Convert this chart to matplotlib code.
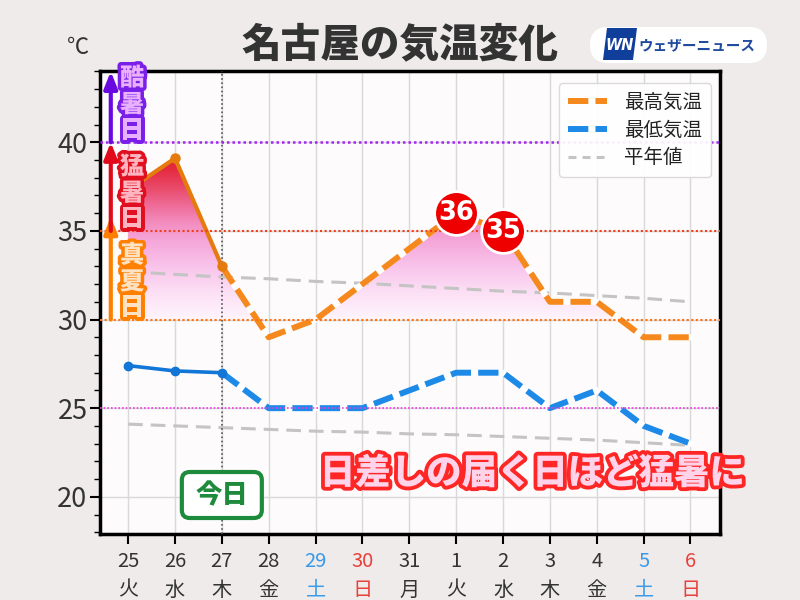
import matplotlib
matplotlib.use('Agg')
import matplotlib.pyplot as plt
import numpy as np
from matplotlib.colors import LinearSegmentedColormap
from matplotlib.path import Path
from matplotlib.patches import FancyBboxPatch, Polygon
from matplotlib.transforms import IdentityTransform
import matplotlib.patheffects as pe
from matplotlib.lines import Line2D

plt.rcParams['font.family'] = ['Noto Sans CJK JP', 'DejaVu Sans']

# ---------------- data ----------------
days = ['25', '26', '27', '28', '29', '30', '31', '1', '2', '3', '4', '5', '6']
weekdays = ['火', '水', '木', '金', '土', '日', '月', '火', '水', '木', '金', '土', '日']
max_temp = [37.3, 39.1, 33.0, 29, 30, 32, 34, 36, 35, 31, 31, 29, 29]
min_temp = [27.4, 27.1, 27.0, 25, 25, 25, 26, 27, 27, 25, 26, 24, 23]
normal_max = [32.7, 32.55, 32.4, 32.3, 32.15, 32.05, 31.9, 31.75, 31.6, 31.5, 31.35, 31.2, 31.0]
normal_min = [24.1, 24.0, 23.9, 23.8, 23.7, 23.65, 23.55, 23.5, 23.4, 23.3, 23.2, 23.05, 22.9]
today_index = 2
highlight_idx = [7, 8]
series_labels = ['最高気温', '最低気温', '平年値']
title = '名古屋の気温変化'
band_labels = ['真夏日', '猛暑日', '酷暑日']
band_bottoms = [30, 35, 40]
band_tops = [35.8, 40, 44.0]
banner = '日差しの届く日ほど猛暑に'

# ---------------- figure ----------------
fig = plt.figure(figsize=(8, 6), dpi=100)
fig.patch.set_facecolor('#EEEBEA')
ax = fig.add_axes([0.125, 0.11, 0.775, 0.771])
ax.set_facecolor('#FDFBFC')
x = np.arange(len(days))
ax.set_xlim(-0.6, 12.63)
ax.set_ylim(17.9, 44.0)

# grid
ax.set_axisbelow(True)
ax.set_xticks(x)
ax.set_yticks([20, 25, 30, 35, 40])
ax.set_yticks(np.arange(18, 45, 1), minor=True)
ax.grid(True, which='major', color='#D9D9D9', lw=1.0, zorder=0)

# gradient fill between max temp and 30
mx = np.array(max_temp, dtype=float)
fb = ax.fill_between(x, mx, 30, where=mx >= 30, interpolate=True,
                     facecolor='none', edgecolor='none')
paths = fb.get_paths()
clip = Path.make_compound_path(*paths)
stops = [(30, '#FFF5FC'), (31.5, '#FCE0F5'), (33, '#F9C4EB'), (34.5, '#F5A5D9'),
         (35.5, '#F38CBE'), (36.5, '#EE6A95'), (37.5, '#E94867'), (38.5, '#E42B40'),
         (40, '#E01A2A')]
cmap = LinearSegmentedColormap.from_list('heat', [((s - 30) / 10, c) for s, c in stops])
grad = np.linspace(30, 40, 256).reshape(-1, 1)
im = ax.imshow(grad, extent=[-0.6, 12.63, 30, 40], origin='lower', aspect='auto',
               cmap=cmap, vmin=30, vmax=40, zorder=1.5, interpolation='bilinear')
im.set_clip_path(clip, transform=ax.transData)
ax.set_xlim(-0.6, 12.63)
ax.set_ylim(17.9, 44.0)

# normal lines
ax.plot(x, normal_max, color='#C4C4C4', lw=2.2, dashes=(4.8, 2.6), zorder=3)
ax.plot(x, normal_min, color='#C4C4C4', lw=2.2, dashes=(4.8, 2.6), zorder=3)

# today vertical line
ax.axvline(today_index, color='#555555', lw=1.2, ls=(0, (1, 1.5)), zorder=3)

# forecast dashed lines
fx = x[today_index:]
for vals, col in [(max_temp, '#F5891E'), (min_temp, '#1E8AE8')]:
    fv = np.array(vals)[today_index:]
    ax.plot(fx, fv, color='white', lw=4.3, solid_joinstyle='miter', zorder=4)
    ax.plot(fx, fv, color=col, lw=4.3, dashes=(3.4, 1.2), zorder=4.5)

# past solid lines
px = x[:today_index + 1]
ax.plot(px, max_temp[:today_index + 1], color='#E57A0E', lw=3.0, marker='o', ms=6.5,
        zorder=5)
ax.plot(px, min_temp[:today_index + 1], color='#1276D6', lw=2.6, marker='o', ms=6,
        zorder=5)

# reference lines
ax.axhline(40, color='#A424F0', lw=1.8, ls=(0, (1, 1.2)), zorder=6)
ax.axhline(35, color='#F0401A', lw=1.5, ls=(0, (1, 1.2)), zorder=6)
ax.axhline(30, color='#FF7010', lw=1.5, ls=(0, (1, 1.2)), zorder=6)
ax.axhline(25, color='#E83CE0', lw=1.2, ls=(0, (1, 1.2)), zorder=6)

# highlighted values
for i in highlight_idx:
    ax.plot(x[i], max_temp[i], 'o', ms=31.5, mfc='#EE0000', mec='white', mew=2, zorder=8)
    ax.text(x[i], max_temp[i], f'{max_temp[i]:.0f}', color='white', fontsize=18.5,
            fontweight='heavy', ha='center', va='center', zorder=9,
            family=['DejaVu Sans'])

# band arrows and labels
band_cols = [('#FF8000', '#FFE2C4', '#FF8000'),
             ('#E00A1A', '#FFB5C0', '#E01020'),
             ('#6A08E0', '#E8B0FF', '#7A1FE8')]
arrow_x = -0.37
text_x = 0.085
for lab, b0, b1, (acol, fcol, ocol) in zip(band_labels, band_bottoms, band_tops, band_cols):
    ax.annotate('', xy=(arrow_x, b1), xytext=(arrow_x, b0),
                arrowprops=dict(arrowstyle='-|>,head_length=0.5,head_width=0.2',
                                lw=3.0, color=acol, shrinkA=0, shrinkB=0,
                                mutation_scale=20),
                zorder=7, annotation_clip=False)
    offs = [3.62, 2.12, 0.68]
    for ch, o in zip(lab, offs):
        ax.text(text_x, b0 + o, ch, fontsize=17.5, fontweight='heavy', color=fcol,
                ha='center', va='center', zorder=7.5,
                path_effects=[pe.withStroke(linewidth=5, foreground=ocol)])

# banner text
ax.text(0.697, 0.132, banner, transform=ax.transAxes, fontsize=25.5, fontweight='heavy',
        color='#FFD4EA', ha='center', va='center', zorder=9,
        path_effects=[pe.withStroke(linewidth=5.5, foreground='#FF2626')])

# today box
cx, cy = ax.transData.transform((today_index, 20.1))
box = FancyBboxPatch((cx - 40, cy - 23), 80, 46,
                     boxstyle='round,pad=0,rounding_size=8',
                     fc='white', ec='#1E8A3C', lw=3.0, transform=IdentityTransform(),
                     zorder=9)
ax.add_patch(box)
ax.text(today_index, 20.1, '今日', fontsize=19, fontweight='heavy', color='#1E8A3C',
        ha='center', va='center', zorder=10)

# ticks
ax.set_xticklabels([f'{d}\n{w}' for d, w in zip(days, weekdays)], fontsize=14.5,
                   linespacing=1.5)
for lbl, w in zip(ax.get_xticklabels(), weekdays):
    if w == '土':
        lbl.set_color('#3A9AE8')
    elif w == '日':
        lbl.set_color('#E8403A')
    else:
        lbl.set_color('#333333')
ax.set_yticklabels(['20', '25', '30', '35', '40'], fontsize=19.5, color='#333333')
ax.tick_params(axis='x', length=7, width=1.5, pad=5, direction='out')
ax.tick_params(axis='y', which='major', length=7, width=1.5, pad=2, direction='out')
ax.tick_params(axis='y', which='minor', length=4, width=1.0, direction='out')
for s in ax.spines.values():
    s.set_linewidth(2.5)
    s.set_color('black')

# legend
handles = [Line2D([], [], color='#F5891E', lw=4.3, dashes=(3.4, 1.2)),
           Line2D([], [], color='#1E8AE8', lw=4.3, dashes=(3.4, 1.2)),
           Line2D([], [], color='#C4C4C4', lw=2.2, dashes=(2.6, 2.0))]
leg = ax.legend(handles, series_labels, fontsize=14, loc='upper right',
                bbox_to_anchor=(0.985, 0.975), borderaxespad=0, frameon=True,
                fancybox=True, framealpha=0.92, edgecolor='#D8D8D8', facecolor='white',
                handlelength=2.05, labelspacing=0.35, borderpad=0.45,
                handletextpad=0.85)
leg.set_zorder(11)
for t in leg.get_texts():
    t.set_color('#222222')

# title and unit
fig.text(0.5, 1 - 45 / 600, title, fontsize=28.5, fontweight='heavy', color='#333333',
         ha='center', va='center')
fig.text(78 / 800, 1 - 47 / 600, '℃', fontsize=16, color='#333333',
         ha='center', va='center')

# logo
pill = FancyBboxPatch((590, 600 - 63), 177, 36, boxstyle='round,pad=0,rounding_size=18',
                      fc='white', ec='none', transform=IdentityTransform())
fig.add_artist(pill)
wn = Polygon([(607, 600 - 28), (637, 600 - 28), (633, 600 - 60), (603, 600 - 60)],
             closed=True, fc='#0F3F9A', ec='none', transform=IdentityTransform())
fig.add_artist(wn)
fig.text(620 / 800, 1 - 45 / 600, 'WN', fontsize=10.5, fontweight='bold',
         fontstyle='italic', color='white', ha='center', va='center',
         family=['DejaVu Sans'])
fig.text(697 / 800, 1 - 45 / 600, 'ウェザーニュース', fontsize=10.5, fontweight='bold',
         color='#1F4A9E', ha='center', va='center')

fig.savefig('out.png', dpi=100, facecolor=fig.get_facecolor())
